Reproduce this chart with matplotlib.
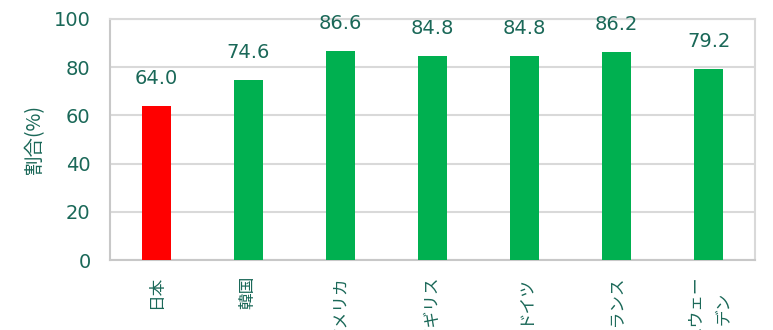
# 国別の割合 棒グラフ
import matplotlib
matplotlib.use("Agg")
import matplotlib.pyplot as plt

plt.rcParams['font.family'] = ['DejaVu Sans', 'Noto Sans CJK JP']

countries = ["日本", "韓国", "アメリカ", "イギリス", "ドイツ", "フランス", "スウェー\nデン"]
values = [64.0, 74.6, 86.6, 84.8, 84.8, 86.2, 79.2]
colors = ["#FF0000"] + ["#00B050"] * 6
text_color = "#1A6858"

fig = plt.figure(figsize=(7.73, 3.30), dpi=100)
ax = fig.add_axes([110 / 773, 1 - 260 / 330, 645 / 773, 241 / 330])

x = range(len(values))
bars = ax.bar(x, values, width=0.315, color=colors, zorder=3)

for xi, v in zip(x, values):
    ax.annotate(f"{v:.1f}", (xi, v), xytext=(0, 13), textcoords="offset points",
                ha="center", va="bottom", fontsize=14, color=text_color)

ax.set_xlim(-0.5, len(values) - 0.5)
ax.set_ylim(0, 100)
ax.set_yticks([0, 20, 40, 60, 80, 100])
ax.set_xticks(list(x))
ax.set_xticklabels(countries, rotation=90, va="top", ha="center",
                   family=['Noto Sans CJK JP', 'DejaVu Sans'], fontsize=12,
                   color=text_color, linespacing=1.9)
ax.tick_params(axis="x", length=0, pad=11)
ax.tick_params(axis="y", length=0, pad=14, labelsize=14, labelcolor=text_color)

ax.grid(axis="y", color="#D9D9D9", linewidth=1.5, zorder=0)
for side in ["top", "right"]:
    ax.spines[side].set_color("#D9D9D9")
    ax.spines[side].set_linewidth(1.5)
for side in ["left", "bottom"]:
    ax.spines[side].set_color("#C8C8C8")
    ax.spines[side].set_linewidth(1.5)

ax.set_ylabel("割合(%)", family=['Noto Sans CJK JP', 'DejaVu Sans'], fontsize=14,
              color=text_color, labelpad=6)

fig.savefig("out.png", dpi=100)
